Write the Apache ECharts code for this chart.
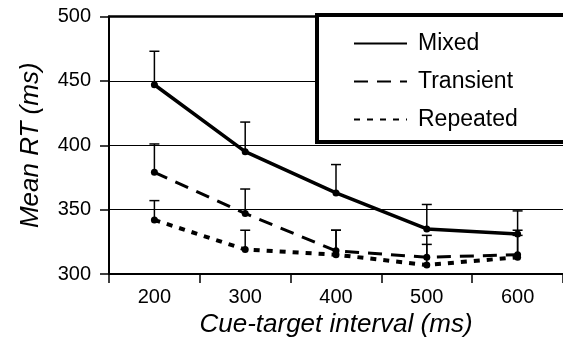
<!DOCTYPE html>
<html>
<head>
<meta charset="utf-8">
<script src="https://cdn.jsdelivr.net/npm/echarts@6/dist/echarts.min.js"></script>
<style>
html,body{margin:0;padding:0;background:#fff;}
#chart{width:563px;height:347px;}
</style>
</head>
<body>
<div id="chart"></div>
<script>
var categories = ['200', '300', '400', '500', '600'];
var yTicks = [300, 350, 400, 450, 500];
var mixed = [447, 395, 363, 335, 331];
var transient = [379, 347, 318, 313, 315];
var repeated = [342, 319, 315, 307, 313];
var mixedTop = [473, 418, 385, 354, 349];
var transientTop = [401, 366, 334, 330, 334];
var repeatedTop = [357, 334, 334, 323, 330];

var FONT = '"Liberation Sans", Arial, sans-serif';

function errData(vals, tops) {
  return vals.map(function (v, i) { return [i, v, tops[i]]; });
}
function errSeries(vals, tops) {
  return {
    type: 'custom',
    z: 1,
    silent: true,
    data: errData(vals, tops),
    renderItem: function (params, api) {
      var x = api.value(0);
      var lo = api.coord([x, api.value(1)]);
      var hi = api.coord([x, api.value(2)]);
      var half = 5;
      var st = { stroke: '#000', lineWidth: 1.5 };
      return {
        type: 'group',
        children: [
          { type: 'line', shape: { x1: lo[0], y1: lo[1], x2: hi[0], y2: hi[1] }, style: st },
          { type: 'line', shape: { x1: hi[0] - half, y1: hi[1], x2: hi[0] + half, y2: hi[1] }, style: st }
        ]
      };
    },
    encode: { x: 0, y: [1, 2] }
  };
}
function lineSeries(name, vals, type, width) {
  return {
    name: name,
    type: 'line',
    z: 2,
    data: vals,
    symbol: 'circle',
    symbolSize: 7,
    itemStyle: { color: '#000' },
    lineStyle: { color: '#000', width: width, type: type, cap: 'butt' },
    emphasis: { disabled: true },
    animation: false
  };
}

var chart = echarts.init(document.getElementById('chart'), null, { renderer: 'canvas' });
chart.setOption({
  animation: false,
  backgroundColor: '#fff',
  textStyle: { fontFamily: FONT, color: '#000' },
  grid: { left: 109, top: 16.5, width: 459, bottom: 73, containLabel: false },
  xAxis: [{
    type: 'category',
    data: categories,
    boundaryGap: true,
    position: 'bottom',
    axisLine: { show: true, lineStyle: { color: '#000', width: 2 } },
    axisTick: { show: true, length: 9, inside: false, lineStyle: { color: '#000', width: 1.5 } },
    axisLabel: { fontSize: 20, color: '#000', margin: 13, fontFamily: FONT },
    splitLine: { show: false },
    name: 'Cue-target interval (ms)',
    nameLocation: 'middle',
    nameGap: 34,
    nameTextStyle: { fontSize: 26, fontStyle: 'italic', color: '#000', fontFamily: FONT }
  }, {
    type: 'category',
    data: categories,
    position: 'top',
    axisLine: { show: true, lineStyle: { color: '#000', width: 2.5 } },
    axisTick: { show: false },
    axisLabel: { show: false },
    splitLine: { show: false }
  }],
  yAxis: {
    type: 'value',
    min: yTicks[0],
    max: yTicks[yTicks.length - 1],
    interval: 50,
    axisLine: { show: true, lineStyle: { color: '#000', width: 2 } },
    axisTick: { show: true, length: 9, lineStyle: { color: '#000', width: 1.5 } },
    axisLabel: { fontSize: 20, color: '#000', margin: 18, fontFamily: FONT },
    splitLine: { show: true, lineStyle: { color: '#000', width: 1 } },
    name: 'Mean RT (ms)',
    nameLocation: 'middle',
    nameGap: 65,
    nameTextStyle: { fontSize: 26, fontStyle: 'italic', color: '#000', fontFamily: FONT }
  },
  graphic: [{
    type: 'rect',
    z: 3,
    silent: true,
    shape: { x: 317, y: 15, width: 300, height: 127 },
    style: { fill: '#fff', stroke: '#000', lineWidth: 4 }
  }],
  legend: {
    z: 5,
    orient: 'vertical',
    left: 348,
    top: 27,
    itemWidth: 53,
    itemHeight: 14,
    itemGap: 15,
    textStyle: { fontSize: 23, color: '#000', fontFamily: FONT, padding: [0, 0, 0, 6] },
    itemStyle: { opacity: 0 },
    data: ['Mixed', 'Transient', 'Repeated']
  },
  series: [
    errSeries(mixed, mixedTop),
    errSeries(transient, transientTop),
    errSeries(repeated, repeatedTop),
    lineSeries('Mixed', mixed, 'solid', 3.5),
    lineSeries('Transient', transient, [14, 9], 3),
    lineSeries('Repeated', repeated, [6, 7], 4)
  ]
});
</script>
</body>
</html>
